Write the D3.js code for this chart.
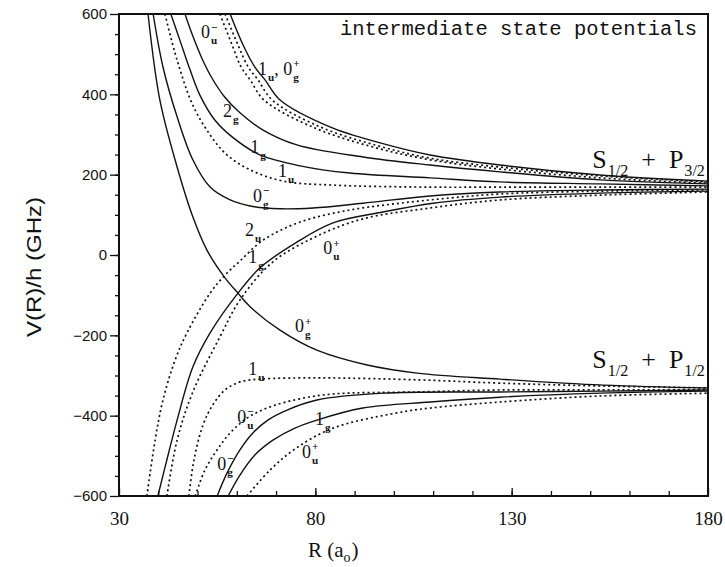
<!DOCTYPE html>
<html>
<head>
<meta charset="utf-8">
<script src="https://cdnjs.cloudflare.com/ajax/libs/d3/7.8.5/d3.min.js"></script>
<style>
  body { margin: 0; background: #fff; }
  text { fill: #111; }
</style>
</head>
<body>
<div id="chart"></div>
<script>
var svgWidth = 725;
var svgHeight = 567;

var margin = { top: 14, right: 17, bottom: 71, left: 119 };
var width = svgWidth - margin.left - margin.right;
var height = svgHeight - margin.top - margin.bottom;

// Axis ticks
var xTicks = [30, 80, 130, 180];
var yTicks = [-600, -400, -200, 0, 200, 400, 600];

// Curves: [R (a0), V/h (GHz)]
// S1/2 + P3/2, repulsive
var u0MinusUp = [[55.7,600],[58.8,523],[61.1,468],[63.4,436],[66.9,386],[79.2,319],[93.9,271],[109.2,237],[127,214],[152.5,192],[180,179]];
var u1UpA = [[57.0,600],[60.3,523],[62.9,468],[65.4,436],[69.0,386],[81.2,319],[95.2,274],[109.2,241],[127,219],[152.5,197],[180,182]];
var g0PlusUp = [[58.3,600],[61.6,523],[64.6,468],[67.2,436],[71.0,386],[83.7,319],[96.5,279],[109.2,249],[127,224],[152.5,199],[180,184]];
var g2Up = [[46.8,600],[48.8,545],[51.1,490],[53.7,440],[56.7,396],[60.8,354],[66.7,311],[75.3,274],[92.1,244],[109.2,224],[127,207],[152.5,187],[180,177]];
var g1UpRep = [[43.2,600],[45.5,535],[48.1,461],[50.6,398],[54.4,336],[58.8,294],[65.9,249],[76.1,222],[88.8,204],[109.2,192],[127,182],[152.5,177],[180,172]];
var u1UpB = [[41.7,600],[44.8,485],[48.8,373],[53.2,299],[57.5,249],[63.4,212],[71.8,184],[84.5,174],[109.2,169],[127,169],[152.5,169],[180,169]];
var g0MinusUp = [[38.7,600],[41.2,468],[44.8,344],[48.8,237],[53.2,169],[58.3,137],[63.4,122],[71.0,115],[79.4,117],[92.1,129],[109.2,147],[127,157],[152.5,162],[180,164]];
// S1/2 + P3/2, attractive
var u2Up = [[37.1,-600],[39.2,-461],[41.2,-361],[44.3,-261],[47.3,-194],[53.2,-95],[57.0,-50],[60.8,-15],[66.7,37],[76.1,82],[88.8,112],[101.6,129],[114.3,142],[127,152],[152.5,159],[180,162]];
var g1UpAtt = [[39.9,-600],[42.5,-498],[44.8,-411],[48.8,-279],[53.2,-194],[60.3,-95],[65.9,-32],[75.3,32],[84.5,80],[97.2,107],[110.0,129],[127,144],[152.5,154],[180,159]];
var u0PlusUp = [[42.2,-600],[44.8,-461],[48.8,-341],[55.7,-204],[60.8,-112],[69.2,-17],[80.4,47],[92.1,90],[109.2,117],[127,137],[152.5,149],[180,157]];
// S1/2 + P1/2
var g0PlusLow = [[37.4,600],[40.4,386],[44.8,219],[48.8,95],[52.4,12],[57.0,-57],[60.3,-95],[63.4,-129],[71.0,-187],[80.4,-237],[93.2,-274],[105.9,-294],[127,-309],[153.3,-324],[180,-331]];
var u1Low = [[47.8,-600],[49.1,-510],[51.4,-423],[53.9,-373],[57.0,-336],[60.8,-316],[65.9,-309],[81.2,-306],[106.7,-311],[127,-319],[152.5,-326],[180,-331]];
var u0MinusLow = [[49.4,-600],[51.9,-535],[55.0,-485],[58.3,-443],[62.6,-406],[68.5,-378],[76.1,-358],[84.5,-346],[105.9,-341],[127,-336],[152.5,-336],[180,-336]];
var g0MinusLow = [[55.0,-600],[57.5,-543],[60.8,-485],[64.1,-443],[67.9,-411],[72.8,-386],[80.4,-361],[97.2,-344],[127,-341],[152.5,-339],[180,-336]];
var g1Low = [[57.8,-600],[60.8,-548],[64.6,-498],[69.2,-461],[74.8,-431],[80.4,-411],[92.1,-381],[109.2,-366],[127,-354],[152.5,-344],[180,-339]];
var u0PlusLow = [[62.6,-600],[68.5,-535],[74.8,-483],[84.5,-431],[100.8,-393],[109.2,-381],[127,-366],[152.5,-351],[180,-344]];

// g states drawn solid, u states dotted
var curves = [
    { pts: u0MinusUp, dotted: true },
    { pts: u1UpA, dotted: true },
    { pts: g0PlusUp, dotted: false },
    { pts: g2Up, dotted: false },
    { pts: g1UpRep, dotted: false },
    { pts: u1UpB, dotted: true },
    { pts: g0MinusUp, dotted: false },
    { pts: u2Up, dotted: true },
    { pts: g1UpAtt, dotted: false },
    { pts: u0PlusUp, dotted: true },
    { pts: g0PlusLow, dotted: false },
    { pts: u1Low, dotted: true },
    { pts: u0MinusLow, dotted: true },
    { pts: g0MinusLow, dotted: false },
    { pts: g1Low, dotted: false },
    { pts: u0PlusLow, dotted: true }
];

// curve labels: [R, V] anchor, then text pieces (main, subscript, superscript)
var stateLabels = [
    [50.9, 540, [["0", "u", "\u2212"]]],
    [65.4, 448, [["1", "u"], [", 0", "g", "+"]]],
    [56.5, 344, [["2", "g"]]],
    [63.4, 254, [["1", "g"]]],
    [70.5, 194, [["1", "u"]]],
    [64.1, 132, [["0", "g", "\u2212"]]],
    [62.1, 47, [["2", "u"]]],
    [62.9, -20, [["1", "g"]]],
    [82.0, 2, [["0", "u", "+"]]],
    [74.8, -192, [["0", "g", "+"]]],
    [62.9, -299, [["1", "u"]]],
    [60.1, -418, [["0", "u", "\u2212"]]],
    [79.9, -423, [["1", "g"]]],
    [55.0, -535, [["0", "g", "\u2212"]]],
    [76.6, -505, [["0", "u", "+"]]]
];

var asymptoteLabels = [
    [150.5, 217, [["S", "1/2"], ["\u2002+\u2002P", "3/2"]]],
    [150.5, -281, [["S", "1/2"], ["\u2002+\u2002P", "1/2"]]]
];

var svg = d3.select("#chart")
    .append("svg")
    .attr("width", svgWidth)
    .attr("height", svgHeight);

var chartGroup = svg.append("g")
    .attr("transform", `translate(${margin.left}, ${margin.top})`);

var xScale = d3.scaleLinear().domain([30, 180]).range([0, width]);
var yScale = d3.scaleLinear().domain([-600, 600]).range([height, 0]);

chartGroup.append("clipPath")
    .attr("id", "plotClip")
    .append("rect")
    .attr("width", width)
    .attr("height", height);

// minor ticks
chartGroup.append("g")
    .attr("transform", `translate(0, ${height})`)
    .call(d3.axisBottom(xScale).tickValues(d3.range(40, 180, 10)).tickSize(-5).tickFormat(""))
    .call(g => g.select(".domain").remove());

chartGroup.append("g")
    .call(d3.axisLeft(yScale).tickValues(d3.range(-550, 600, 50)).tickSize(4).tickFormat(""))
    .call(g => g.select(".domain").remove());

// major axes
var bottomAxis = chartGroup.append("g")
    .attr("transform", `translate(0, ${height})`)
    .call(d3.axisBottom(xScale).tickValues(xTicks).tickSize(-8).tickPadding(16).tickSizeOuter(0));
bottomAxis.selectAll("text")
    .attr("font-family", "Liberation Serif")
    .attr("font-size", "19px");

var leftAxis = chartGroup.append("g")
    .call(d3.axisLeft(yScale).tickValues(yTicks).tickSize(9).tickPadding(3).tickSizeOuter(0));
leftAxis.selectAll("text")
    .attr("font-family", "Liberation Sans")
    .attr("font-size", "15px");

chartGroup.selectAll(".tick line").attr("stroke", "#111").attr("stroke-width", 1.3);

// frame
chartGroup.append("rect")
    .attr("width", width)
    .attr("height", height)
    .attr("fill", "none")
    .attr("stroke", "#111")
    .attr("stroke-width", 2);

// potential curves
var line = d3.line()
    .x(d => xScale(d[0]))
    .y(d => yScale(d[1]))
    .curve(d3.curveCatmullRom.alpha(0.5));

chartGroup.append("g")
    .attr("clip-path", "url(#plotClip)")
    .selectAll("path")
    .data(curves)
    .enter()
    .append("path")
    .attr("d", d => line(d.pts))
    .attr("fill", "none")
    .attr("stroke", "#111")
    .attr("stroke-width", d => d.dotted ? 1.7 : 1.4)
    .attr("stroke-dasharray", d => d.dotted ? "2,3" : null);

// text with subscripts / superscripts
function drawLabel(g, px, py, pieces, size, bold) {
    var cx = px;
    pieces.forEach(function (p) {
        var t = g.append("text")
            .attr("x", cx)
            .attr("y", py)
            .attr("font-size", size + "px")
            .text(p[0]);
        cx += t.node().getComputedTextLength();
        var w = 0;
        if (p[1]) {
            var s = g.append("text")
                .attr("x", cx + 1)
                .attr("y", py + size * 0.32)
                .attr("font-size", (size * 0.62) + "px")
                .attr("font-weight", bold ? "bold" : "normal")
                .text(p[1]);
            w = Math.max(w, s.node().getComputedTextLength());
        }
        if (p[2]) {
            var s2 = g.append("text")
                .attr("x", cx + 1)
                .attr("y", py - size * 0.42)
                .attr("font-size", (size * 0.62) + "px")
                .attr("font-weight", bold ? "bold" : "normal")
                .text(p[2]);
            w = Math.max(w, s2.node().getComputedTextLength());
        }
        cx += w + 1;
    });
}

var labelGroup = chartGroup.append("g").attr("font-family", "Liberation Serif");
stateLabels.forEach(function (l) {
    drawLabel(labelGroup, xScale(l[0]), yScale(l[1]), l[2], 18, true);
});
asymptoteLabels.forEach(function (l) {
    drawLabel(labelGroup, xScale(l[0]), yScale(l[1]), l[2], 26, false);
});

// title inside plot
chartGroup.append("text")
    .attr("x", 340 - margin.left)
    .attr("y", 35 - margin.top)
    .attr("font-family", "Liberation Mono")
    .attr("font-size", "20px")
    .attr("textLength", 357)
    .attr("lengthAdjust", "spacingAndGlyphs")
    .text("intermediate state potentials");

// axis titles
chartGroup.append("text")
    .attr("transform", `translate(${34 - margin.left}, ${height / 2 + 12}) rotate(-90)`)
    .attr("text-anchor", "middle")
    .attr("dy", "0.35em")
    .attr("font-family", "Liberation Sans")
    .attr("font-size", "20px")
    .attr("textLength", 140)
    .attr("lengthAdjust", "spacingAndGlyphs")
    .text("V(R)/h (GHz)");

var xTitle = chartGroup.append("text")
    .attr("x", 308 - margin.left)
    .attr("y", 557 - margin.top)
    .attr("font-family", "Liberation Serif")
    .attr("font-size", "21px")
    .text("R (a");
var xtw = xTitle.node().getComputedTextLength();
chartGroup.append("text")
    .attr("x", 308 - margin.left + xtw)
    .attr("y", 562 - margin.top)
    .attr("font-family", "Liberation Serif")
    .attr("font-size", "14px")
    .text("o");
chartGroup.append("text")
    .attr("x", 308 - margin.left + xtw + 8)
    .attr("y", 557 - margin.top)
    .attr("font-family", "Liberation Serif")
    .attr("font-size", "21px")
    .text(")");
</script>
</body>
</html>
